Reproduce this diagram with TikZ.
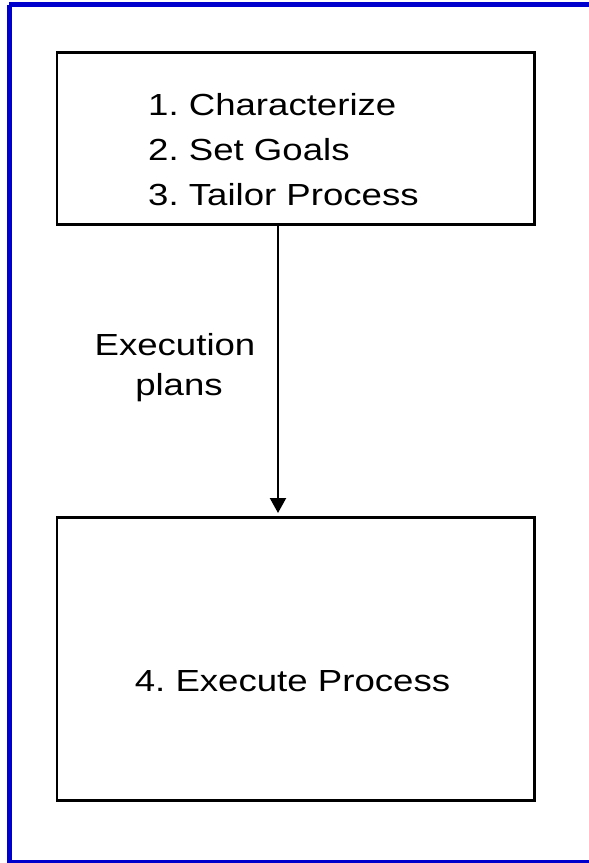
\documentclass[tikz,border=0pt]{standalone}
\usepackage{fontspec}
\setmainfont{Liberation Sans}[FakeStretch=1.2]
\usetikzlibrary{arrows.meta}
\definecolor{frameblue}{RGB}{0,0,204}
\tikzset{
  box/.style={draw=black, line width=2.6pt, rectangle, inner sep=0pt},
  txt/.style={inner sep=0pt, font=\fontsize{30.5pt}{45pt}\selectfont\frenchspacing},
  flow/.style={line width=2.2pt, -{Triangle[width=16pt,length=15pt]}, shorten >=3pt}
}
\begin{document}
\begin{tikzpicture}[x=1pt,y=-1pt]
\useasboundingbox (0,0) rectangle (589,863);
\clip (0,0) rectangle (589,863);
\draw[frameblue, line width=5pt] (9,4.5) -- (595,4.5) (9,4.5) -- (9,862) -- (595,862);
\node[box, minimum width=477.5pt, minimum height=172pt, anchor=north west] (top) at (55.5,51) {};
\node[box, minimum width=477.5pt, minimum height=283pt, anchor=north west] (bot) at (55.5,516) {};
\node[txt, anchor=base west] (l1) at (148,115) {1. Characterize};
\node[txt, anchor=base west] (l2) at (148,160) {2. Set Goals};
\node[txt, anchor=base west] (l3) at (148,205) {3. Tailor Process};
\node[txt, anchor=base] (e1) at (175,355) {Execution};
\node[txt, anchor=base] (e2) at (179,395) {plans};
\node[txt, anchor=base] (ex) at (292.5,691) {4. Execute Process};
\coordinate (ax) at (278,300);
\draw[flow] (top.south -| ax) -- (bot.north -| ax);
\end{tikzpicture}
\end{document}
